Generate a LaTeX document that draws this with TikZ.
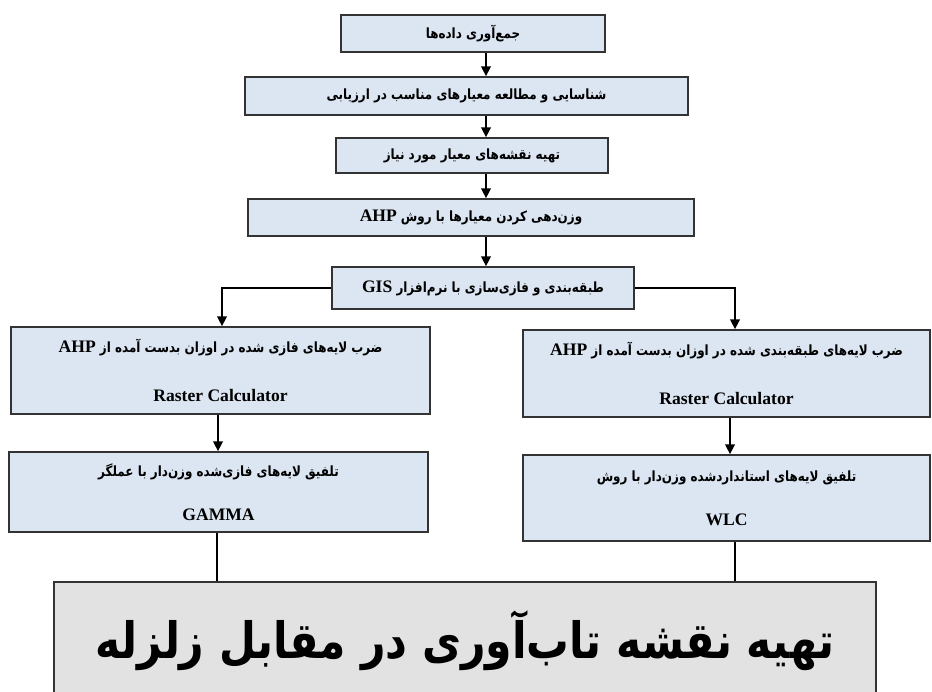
\documentclass[tikz,border=0pt]{standalone}
\usepackage{fontspec}
\usetikzlibrary{arrows.meta}
\TeXXeTstate=1
\newfontfamily\fa[Script=Arabic,FakeStretch=0.85]{DejaVu Sans}
\newfontfamily\en{Liberation Serif}
\definecolor{boxblue}{RGB}{220,230,242}
\definecolor{paper}{RGB}{226,226,226}
\newcommand{\fatext}[1]{{\fontsize{8}{10}\selectfont\fa\bfseries\beginR #1\endR}}
\newcommand{\entext}[1]{{\fontsize{10}{12}\selectfont\en\bfseries #1}}
\newcommand{\enin}[1]{\beginL{\fontsize{10}{12}\selectfont\en\bfseries #1}\endL}

\begin{document}
\begin{tikzpicture}[x=0.02cm,y=-0.02cm,
  box/.style={draw=black!80,line width=1pt,fill=boxblue,inner sep=0pt,align=center},
  arr/.style={-{Triangle[length=5.5pt,width=5.5pt]},line width=0.8pt},
  ln/.style={line width=0.8pt}]
\useasboundingbox (0,0) rectangle (932,691);
\clip (0,0) rectangle (932,691);
% main column
\node[box,minimum width=5.28cm,minimum height=0.74cm] (collect) at (473,33.5) {\fatext{جمع^^^^200cآوری داده^^^^200cها}};
\node[box,minimum width=8.86cm,minimum height=0.76cm] (criteria) at (466.5,96) {\fatext{شناسایی و مطالعه معیارهای مناسب در ارزیابی}};
\node[box,minimum width=5.44cm,minimum height=0.70cm] (maps) at (472,155.5) {\fatext{تهیه نقشه^^^^200cهای معیار مورد نیاز}};
\node[box,minimum width=8.92cm,minimum height=0.74cm] (weight) at (471,217.5) {\fatext{وزن^^^^200cدهی کردن معیارها با روش \enin{AHP}}};
\node[box,minimum width=6.04cm,minimum height=0.84cm] (gis) at (483,288) {\fatext{طبقه^^^^200cبندی و فازی^^^^200cسازی با نرم^^^^200cافزار \enin{GIS}}};
% left branch (fuzzy)
\node[box,minimum width=8.38cm,minimum height=1.74cm] (fuzzyrc) at (220.5,370.5) {\fatext{ضرب لایه^^^^200cهای فازی شده در اوزان بدست آمده از \enin{AHP}}\\[16pt]\entext{Raster Calculator}};
\node[box,minimum width=8.38cm,minimum height=1.60cm] (gamma) at (218.5,492) {\fatext{تلفیق لایه^^^^200cهای فازی^^^^200cشده وزن^^^^200cدار با عملگر}\\[13pt]\entext{GAMMA}};
% right branch (classes)
\node[box,minimum width=8.14cm,minimum height=1.74cm] (classrc) at (726.5,373.5) {\fatext{ضرب لایه^^^^200cهای طبقه^^^^200cبندی شده در اوزان بدست آمده از \enin{AHP}}\\[16pt]\entext{Raster Calculator}};
\node[box,minimum width=8.14cm,minimum height=1.72cm] (wlc) at (726.5,498) {\fatext{تلفیق لایه^^^^200cهای استانداردشده وزن^^^^200cدار با روش}\\[13pt]\entext{WLC}};
% result
\node[draw=black!80,line width=1pt,fill=paper,minimum width=16.44cm,minimum height=2.36cm,inner sep=0pt] (result) at (465,641) {{\fontsize{28.5}{34}\selectfont\fa\bfseries\beginR تهیه نقشه تاب^^^^200cآوری در مقابل زلزله\endR}};
% connectors
\coordinate (cx) at (486,0);
\coordinate (lx) at (222,0);
\coordinate (rx) at (735,0);
\draw[arr] (collect.south -| cx) -- (criteria.north -| cx);
\draw[arr] (criteria.south -| cx) -- (maps.north -| cx);
\draw[arr] (maps.south -| cx) -- (weight.north -| cx);
\draw[arr] (weight.south -| cx) -- (gis.north -| cx);
\draw[arr] (gis.west) -| (fuzzyrc.north -| lx);
\draw[arr] (gis.east) -| (classrc.north -| rx);
\draw[arr] (fuzzyrc.south -| 218,0) -- (gamma.north -| 218,0);
\draw[arr] (classrc.south -| 730,0) -- (wlc.north -| 730,0);
\draw[ln] (gamma.south -| 217,0) -- (result.north -| 217,0);
\draw[ln] (wlc.south -| rx) -- (result.north -| rx);
\end{tikzpicture}
\end{document}
